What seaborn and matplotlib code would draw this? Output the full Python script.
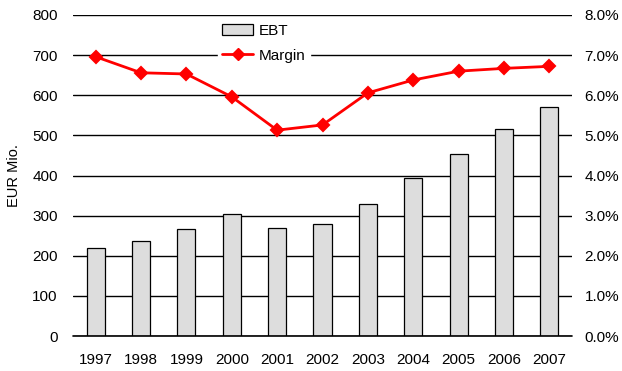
import matplotlib
matplotlib.use("Agg")
import matplotlib.pyplot as plt
import seaborn as sns
import numpy as np
import pandas as pd
from matplotlib.ticker import PercentFormatter
from matplotlib.lines import Line2D
from matplotlib.patches import Patch

years = ["1997", "1998", "1999", "2000", "2001", "2002", "2003", "2004", "2005", "2006", "2007"]
ebt = [219, 237, 267, 304, 269, 280, 329, 394, 454, 516, 571]
margin = [6.96, 6.56, 6.53, 5.96, 5.13, 5.26, 6.06, 6.38, 6.60, 6.67, 6.72]

sns.set_theme(style="white")
plt.rcParams['font.family'] = ['Liberation Sans', 'DejaVu Sans']
plt.rcParams['text.color'] = 'black'
plt.rcParams['axes.labelcolor'] = 'black'
plt.rcParams['xtick.color'] = 'black'
plt.rcParams['ytick.color'] = 'black'

fig = plt.figure(figsize=(6.22, 3.71), dpi=100)
ax = fig.add_axes([73/622, 1-336/371, (572-73)/622, (336-15)/371])

df = pd.DataFrame({"year": years, "ebt": ebt, "margin": margin})
sns.barplot(data=df, x="year", y="ebt", ax=ax, color="#DDDDDD", edgecolor="black",
            linewidth=0.9, width=0.4, saturation=1, zorder=2)
ax.set_ylim(0, 800)
ax.set_yticks(np.arange(0, 801, 100))
ax.yaxis.grid(True, color="black", linewidth=1.0, zorder=0)
ax.set_axisbelow(True)
ax.axhline(0, color="black", linewidth=1.2, clip_on=False, zorder=3)
for s in ax.spines.values():
    s.set_visible(False)
ax.set_xlabel("")
ax.set_ylabel("EUR Mio.", fontsize=10.5, labelpad=8)
ax.tick_params(axis="y", labelsize=11, length=0, pad=11)
ax.tick_params(axis="x", labelsize=11, length=0, pad=12)

ax2 = ax.twinx()
sns.pointplot(data=df, x="year", y="margin", ax=ax2, color="red", markers="D",
              linestyles="-", markersize=6, linewidth=2)
ax2.set_ylim(0, 8)
ax2.set_yticks(np.arange(0, 8.01, 1))
ax2.yaxis.set_major_formatter(PercentFormatter(decimals=1))
for s in ax2.spines.values():
    s.set_visible(False)
ax2.grid(False)
ax2.set_ylabel("")
ax2.set_xlabel("")
ax2.tick_params(axis="y", labelsize=11, length=0, pad=9)
ax.set_xlim(-0.5, 10.5)
ax2.set_xlim(-0.5, 10.5)

handles = [Patch(facecolor="#DDDDDD", edgecolor="black", linewidth=0.9),
           Line2D([0], [0], color="red", marker="D", markersize=6, linewidth=2)]
leg = ax2.legend(handles, ["EBT", "Margin"], loc="upper left",
                 bbox_to_anchor=(0.275, 1.01), frameon=True, fontsize=11,
                 handlelength=2.0, labelspacing=0.7, borderpad=0.3,
                 handletextpad=0.4, fancybox=False)
leg.get_frame().set_edgecolor("white")
leg.get_frame().set_facecolor("white")
leg.get_frame().set_alpha(1)

fig.savefig("out.png", dpi=100)
